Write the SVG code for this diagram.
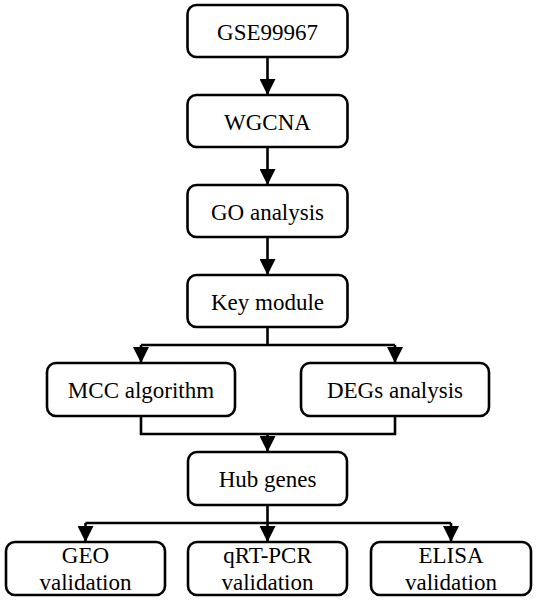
<svg xmlns="http://www.w3.org/2000/svg" width="536" height="600" viewBox="0 0 536 600">
<defs>
<marker id="ah" markerUnits="userSpaceOnUse" markerWidth="16" markerHeight="16" viewBox="0 0 16 16" refX="16" refY="8" orient="auto">
<path d="M0,0 L16,8 L0,16 Z" fill="#000"/>
</marker>
<style>
.box{fill:#fff;stroke:#000;stroke-width:2.6}
.t{font-size:23px;fill:#000;text-anchor:middle}
.c{fill:none;stroke:#000;stroke-width:2.6}
.a{marker-end:url(#ah)}
</style>
</defs>
<rect width="536" height="600" fill="#fff"/>
<g id="connectors">
<line class="c a" x1="267.5" y1="57" x2="267.5" y2="95"/>
<line class="c a" x1="267.5" y1="147" x2="267.5" y2="185"/>
<line class="c a" x1="267.5" y1="237" x2="267.5" y2="275"/>
<polyline class="c" points="267.5,327 267.5,345"/>
<polyline class="c" points="141,345 395,345"/>
<line class="c a" x1="141" y1="345" x2="141" y2="363"/>
<line class="c a" x1="395" y1="345" x2="395" y2="363"/>
<polyline class="c" points="141,416 141,434 395,434 395,416"/>
<line class="c a" x1="267.5" y1="434" x2="267.5" y2="452"/>
<polyline class="c" points="267.5,505 267.5,523"/>
<polyline class="c" points="85.5,523 451,523"/>
<line class="c a" x1="85.5" y1="523" x2="85.5" y2="542"/>
<line class="c a" x1="267.5" y1="523" x2="267.5" y2="542"/>
<line class="c a" x1="451" y1="523" x2="451" y2="542"/>
</g>
<g font-family="Liberation Serif, Times New Roman, serif">
<g id="gse">
<rect class="box" x="187.5" y="5" width="160" height="52" rx="9"/>
<text class="t" x="267.5" y="40">GSE99967</text>
</g>
<g id="wgcna">
<rect class="box" x="187.5" y="95" width="160" height="52" rx="9"/>
<text class="t" x="267.5" y="130">WGCNA</text>
</g>
<g id="go">
<rect class="box" x="187.5" y="185" width="160" height="52" rx="9"/>
<text class="t" x="267.5" y="220">GO analysis</text>
</g>
<g id="key">
<rect class="box" x="187.5" y="275" width="160" height="52" rx="9"/>
<text class="t" x="267.5" y="310">Key module</text>
</g>
<g id="mcc">
<rect class="box" x="47" y="363" width="188" height="53" rx="9"/>
<text class="t" x="141" y="398">MCC algorithm</text>
</g>
<g id="degs">
<rect class="box" x="301" y="363" width="188" height="53" rx="9"/>
<text class="t" x="395" y="398">DEGs analysis</text>
</g>
<g id="hub">
<rect class="box" x="188" y="452" width="159" height="53" rx="9"/>
<text class="t" x="267.5" y="487">Hub genes</text>
</g>
<g id="geo">
<rect class="box" x="6" y="542" width="159" height="53" rx="9"/>
<text class="t" x="85.5" y="563">GEO</text>
<text class="t" x="85.5" y="590">validation</text>
</g>
<g id="qrt">
<rect class="box" x="188" y="542" width="159" height="53" rx="9"/>
<text class="t" x="267.5" y="563">qRT-PCR</text>
<text class="t" x="267.5" y="590">validation</text>
</g>
<g id="elisa">
<rect class="box" x="371" y="542" width="160" height="53" rx="9"/>
<text class="t" x="451" y="563">ELISA</text>
<text class="t" x="451" y="590">validation</text>
</g>
</g>
</svg>
